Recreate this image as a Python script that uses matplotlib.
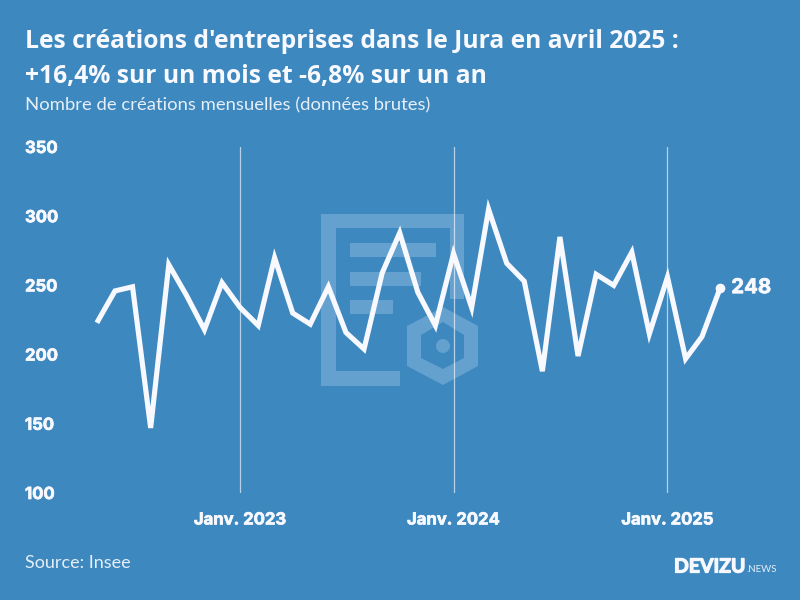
import matplotlib
matplotlib.use("Agg")
import matplotlib.patheffects as pe
import matplotlib.pyplot as plt
import pandas as pd
from matplotlib.patches import Circle, PathPatch, Polygon, Rectangle
from matplotlib.path import Path

# Monthly company creations, May 2022 - April 2025
months = pd.date_range("2022-05-01", "2025-04-01", freq="MS")
creations = [223, 246, 249, 147, 265, 243, 218, 252,
             234, 221, 270, 230, 222, 249, 216, 204, 259, 288, 245, 221,
             273, 234, 305, 266, 253, 188, 285, 199, 258, 250, 274, 215,
             256, 197, 213, 248]
y_ticks = [100, 150, 200, 250, 300, 350]
x_ticks = ["2023-01-01", "2024-01-01", "2025-01-01"]
x_labels = ["Janv. 2023", "Janv. 2024", "Janv. 2025"]

title_lines = ["Les créations d'entreprises dans le Jura en avril 2025 :",
               "+16,4% sur un mois et -6,8% sur un an"]
subtitle = "Nombre de créations mensuelles (données brutes)"
source = "Source: Insee"

BG = "#3d88bf"
FG = "#f8f8ff"
SOFT = "#e6eef7"
WM = "#64a1cf"

fig = plt.figure(figsize=(8, 6), dpi=100, facecolor=BG)

# Inter bold comes out lighter than the reference, thicken it a little
heavy = [pe.withStroke(linewidth=0.5, foreground=FG)]

# background layer in pixel coordinates, for the watermark and the header
bg = fig.add_axes([0, 0, 1, 1], zorder=0)
bg.set_xlim(0, 800)
bg.set_ylim(600, 0)
bg.axis("off")

frame = [(321, 214), (464, 214), (464, 299), (450, 299), (450, 228), (336, 228),
         (336, 371), (400, 371), (400, 386), (321, 386)]
bg.add_patch(Polygon(frame, closed=True, fc=WM, ec="none"))
for x0, y0, w, h in [(350, 243, 86, 14), (350, 272, 71, 14), (350, 300, 43, 14)]:
    bg.add_patch(Rectangle((x0, y0), w, h, fc=WM, ec="none"))

hex_out = [(443, 307), (478, 326), (478, 366), (443, 385), (407, 366), (407, 326), (443, 307)]
hex_in = [(443, 322), (421, 335), (421, 358), (443, 369), (464, 358), (464, 335), (443, 322)]
codes = [Path.MOVETO] + [Path.LINETO] * 5 + [Path.CLOSEPOLY]
bg.add_patch(PathPatch(Path(hex_out + hex_in, codes + codes), fc=WM, ec="none"))
bg.add_patch(Circle((443, 346), 7, fc=WM, ec="none"))

bg.text(25, 42, title_lines[0], color=FG, fontsize=17.75, fontweight="bold", family="Open Sans",
        va="center", ha="left")
bg.text(25, 77, title_lines[1], color=FG, fontsize=17.75, fontweight="bold", family="Open Sans",
        va="center", ha="left")
bg.text(25, 105, subtitle, color=SOFT, fontsize=13.3, family="Lato", va="center", ha="left")
bg.text(25, 563, source, color=SOFT, fontsize=13, family="Lato", va="center", ha="left")
bg.text(674, 567, "DEVIZU", color=FG, fontsize=14, fontweight="bold", family="Lato",
        va="center", ha="left", path_effects=[pe.withStroke(linewidth=0.9, foreground=FG)])
bg.text(746, 570, ".NEWS", color=SOFT, fontsize=7, family="Lato", va="center", ha="left")

# data axes, left edge sits on the y labels
ax = fig.add_axes([25 / 800, (600 - 493) / 600, 755 / 800, 346 / 600], zorder=1)
ax.patch.set_alpha(0)
ax.plot(months, creations, color=FG, linewidth=3.7, solid_joinstyle="miter",
        solid_capstyle="butt", zorder=3)
ax.plot(months[-1], creations[-1], "o", color=FG, markersize=7, markeredgewidth=0, zorder=4)
ax.annotate(str(creations[-1]), (months[-1], creations[-1]), xytext=(8, 0),
            textcoords="offset points", color=FG, fontsize=14.7, fontweight="bold",
            family="Inter", va="center", ha="left", path_effects=heavy)

x_start = months[0] - pd.Timedelta(days=(97 - 25) / 17.83 * 30.44)
x_end = months[-1] + pd.Timedelta(days=(780 - 720) / 17.83 * 30.44)
ax.set_xlim(x_start, x_end)
ax.set_ylim(100, 350)

ax.set_yticks(y_ticks)
ax.set_yticklabels([str(v) for v in y_ticks], ha="left", color=FG, fontsize=12,
                   fontweight="bold", family="Inter", path_effects=heavy)
ax.tick_params(axis="y", length=0, pad=0)

ax.set_xticks(pd.to_datetime(x_ticks))
ax.set_xticklabels(x_labels, color=FG, fontsize=12, fontweight="bold", family="Inter",
                   path_effects=heavy)
ax.tick_params(axis="x", length=0, pad=14)
ax.grid(axis="x", color=FG, linewidth=0.9, alpha=0.65, zorder=1)

for spine in ax.spines.values():
    spine.set_visible(False)

fig.savefig("out.png", dpi=100, facecolor=BG)
